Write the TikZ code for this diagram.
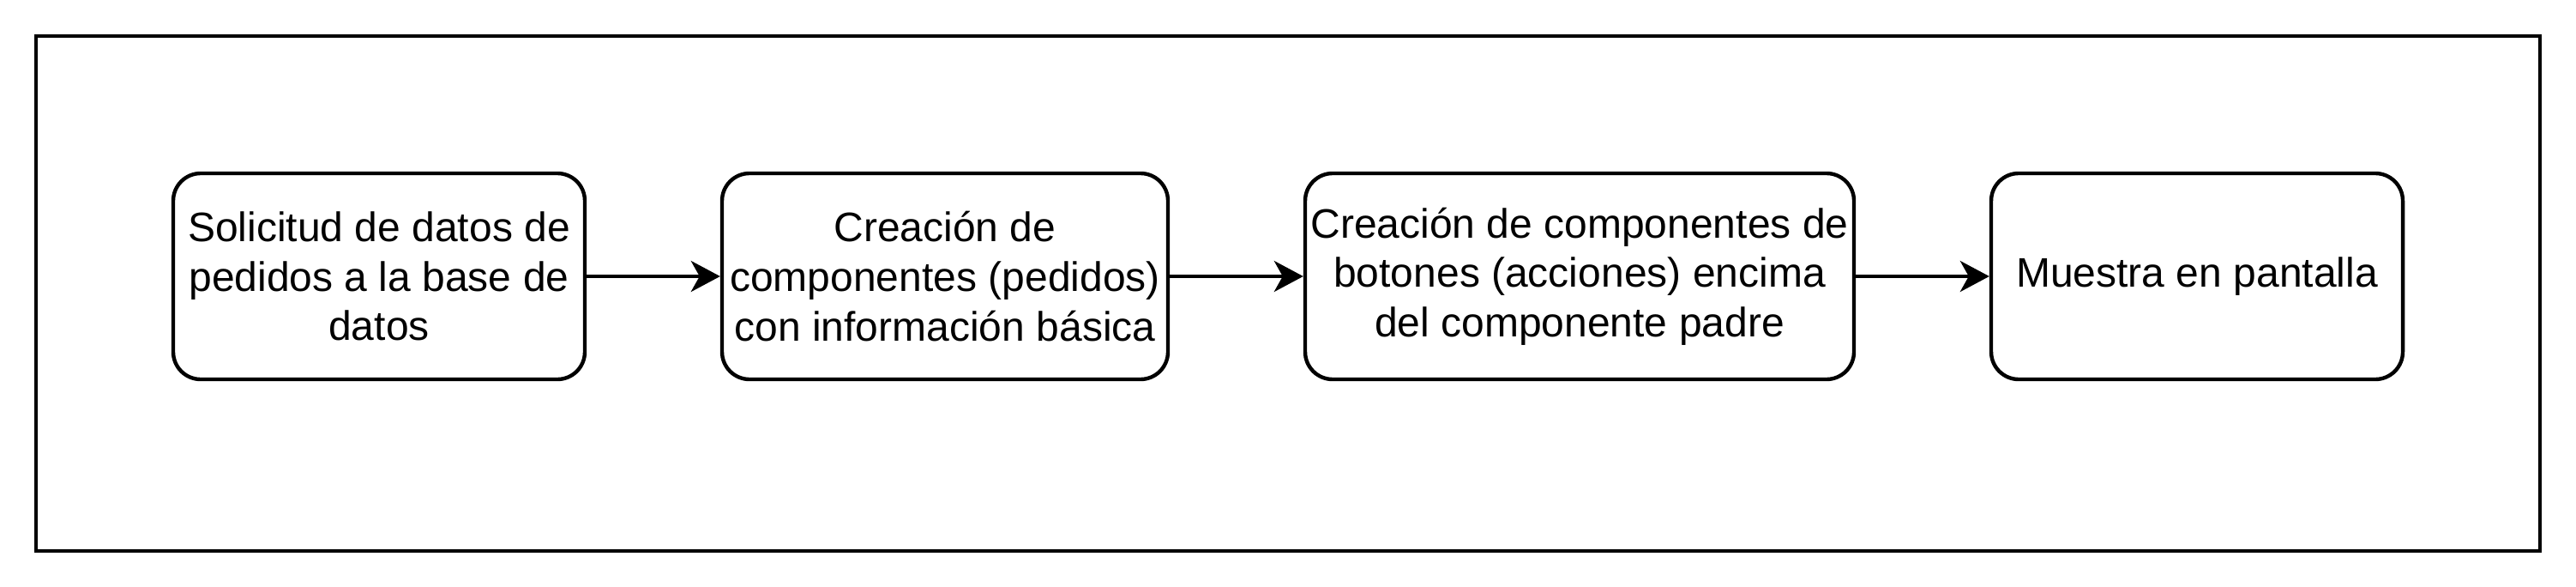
\documentclass[tikz,border=0pt]{standalone}
\usepackage{fontspec}
\setmainfont{Liberation Sans}
\usetikzlibrary{arrows.meta}
\tikzset{
  stepbox/.style={draw=black, line width=1.1pt, rounded corners=8pt, align=center,
    inner sep=0pt, minimum height=60pt, font=\fontsize{12pt}{14.4pt}\selectfont},
  framebox/.style={draw=black, line width=1.1pt, inner sep=0pt, minimum width=730pt, minimum height=150pt},
  flow/.style={line width=1pt, -{Stealth[length=8.5pt, width=9pt, inset=2.5pt]}}
}
\begin{document}
\begin{tikzpicture}[x=1pt,y=-1pt]
\useasboundingbox (0,0) rectangle (751,171);
\node[framebox] (frame) at (375.5,85.5) {};
\node[stepbox, minimum width=120pt] (b1) at (110.5,80.5) {Solicitud de datos de\\pedidos a la base de\\datos};
\node[stepbox, minimum width=130pt] (b2) at (275.5,80.5) {Creación de\\componentes (pedidos)\\con información básica};
\node[stepbox, minimum width=160pt] (b3) at (460.5,80.5) {Creación de componentes de\\botones (acciones) encima\\del componente padre};
\node[stepbox, minimum width=120pt] (b4) at (640.5,80.5) {Muestra en pantalla};
\draw[flow] (b1.east) -- (b2.west);
\draw[flow] (b2.east) -- (b3.west);
\draw[flow] (b3.east) -- (b4.west);
\end{tikzpicture}
\end{document}
